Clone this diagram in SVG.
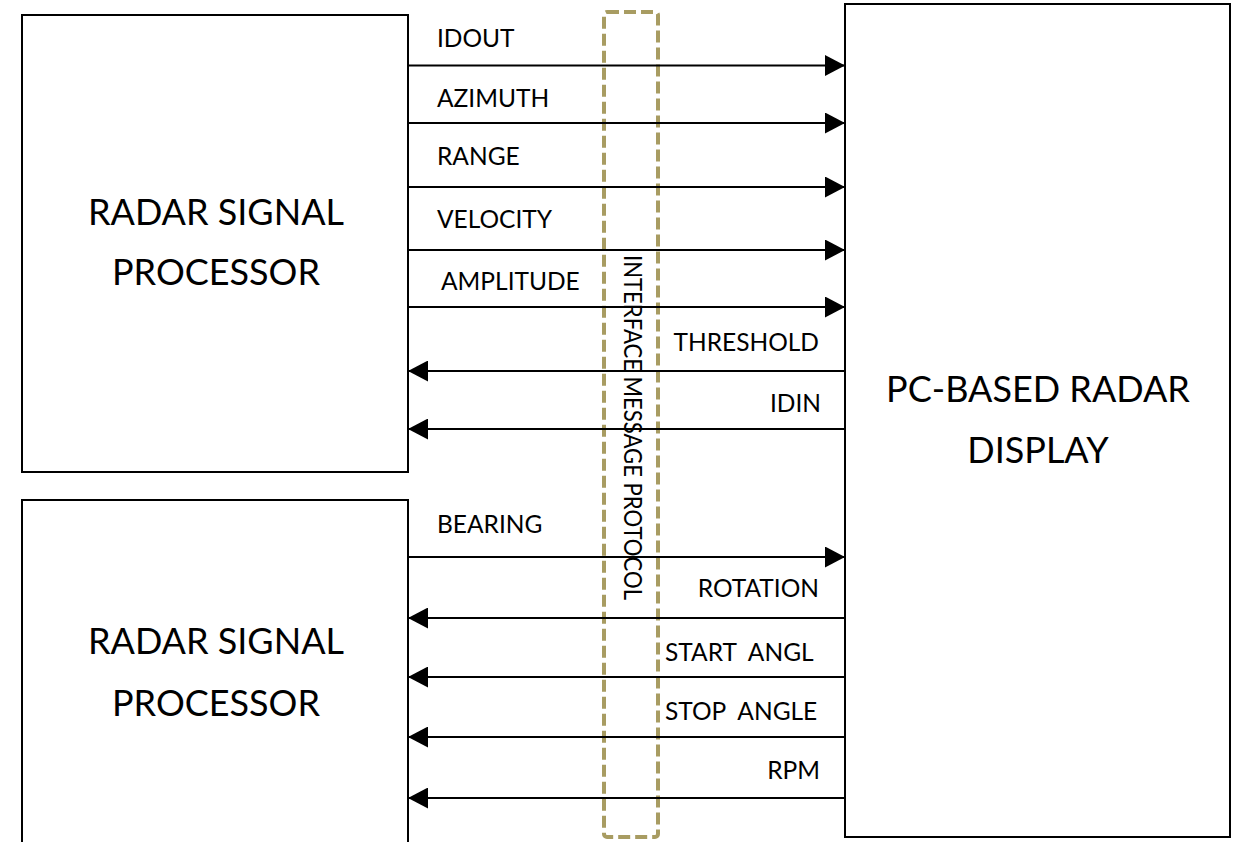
<svg xmlns="http://www.w3.org/2000/svg" width="1240" height="842" viewBox="0 0 1240 842">
<style>
.box{fill:#fff;stroke:#000;stroke-width:2}
.big{font-family:Lato,"Liberation Sans",Arial,sans-serif;font-size:36px;fill:#000;text-anchor:middle}
.lbl{font-family:Lato,"Liberation Sans",Arial,sans-serif;font-size:24.5px;fill:#000;white-space:pre}
.end{text-anchor:end}
.conn line{stroke:#000;stroke-width:2;marker-end:url(#ah)}
</style>
<defs>
<marker id="ah" markerUnits="userSpaceOnUse" markerWidth="20" markerHeight="21" refX="20" refY="10.5" orient="auto">
<path d="M0,0 L20,10.5 L0,21 Z" fill="#000"/>
</marker>
</defs>
<rect width="1240" height="842" fill="#fff"/>
<g id="rsp1">
<rect class="box" x="22" y="15" width="386" height="457"/>
<text class="big" x="216" y="225">RADAR SIGNAL</text>
<text class="big" x="216" y="285">PROCESSOR</text>
</g>
<g id="rsp2">
<path class="box" d="M22,850 L22,500 L408,500 L408,850"/>
<text class="big" x="216" y="654">RADAR SIGNAL</text>
<text class="big" x="216" y="716">PROCESSOR</text>
</g>
<g id="display">
<rect class="box" x="845" y="4" width="385" height="833"/>
<text class="big" x="1038" y="402">PC-BASED RADAR</text>
<text class="big" x="1038" y="463">DISPLAY</text>
</g>
<g id="protocol">
<rect x="604" y="12" width="54" height="825" rx="3" fill="none" stroke="#A89C62" stroke-width="4" stroke-dasharray="12 5"/>
<text class="lbl" font-size="22" transform="translate(624,255) rotate(90)" textLength="345" lengthAdjust="spacingAndGlyphs">INTERFACE MESSAGE PROTOCOL</text>
</g>
<g class="conn" id="connectors">
<line x1="408" y1="65.5" x2="845" y2="65.5"/>
<line x1="408" y1="123" x2="845" y2="123"/>
<line x1="408" y1="187" x2="845" y2="187"/>
<line x1="408" y1="250" x2="845" y2="250"/>
<line x1="408" y1="307" x2="845" y2="307"/>
<line x1="845" y1="371" x2="408" y2="371"/>
<line x1="845" y1="429" x2="408" y2="429"/>
<line x1="408" y1="557" x2="845" y2="557"/>
<line x1="845" y1="618" x2="408" y2="618"/>
<line x1="845" y1="677" x2="408" y2="677"/>
<line x1="845" y1="737" x2="408" y2="737"/>
<line x1="845" y1="798" x2="408" y2="798"/>
</g>
<g id="labels">
<text class="lbl" x="437" y="47">IDOUT</text>
<text class="lbl" x="437" y="107">AZIMUTH</text>
<text class="lbl" x="437" y="165">RANGE</text>
<text class="lbl" x="437" y="228">VELOCITY</text>
<text class="lbl" x="441" y="290">AMPLITUDE</text>
<text class="lbl end" x="819" y="351">THRESHOLD</text>
<text class="lbl end" x="821" y="412">IDIN</text>
<text class="lbl" x="437" y="533">BEARING</text>
<text class="lbl end" x="819" y="597">ROTATION</text>
<text class="lbl" x="665" y="661">START  ANGL</text>
<text class="lbl" x="665" y="720">STOP  ANGLE</text>
<text class="lbl end" x="820" y="779">RPM</text>
</g>
</svg>
